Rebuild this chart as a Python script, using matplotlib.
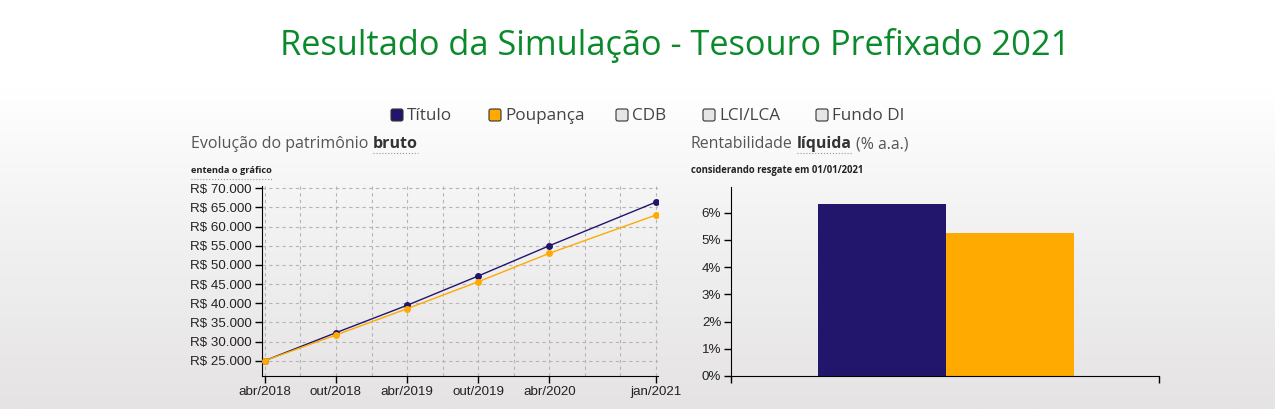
import matplotlib
matplotlib.use('Agg')
import numpy as np
import matplotlib.pyplot as plt
from matplotlib.colors import LinearSegmentedColormap
from matplotlib.lines import Line2D
from matplotlib.patches import FancyBboxPatch
from matplotlib.ticker import FuncFormatter, MultipleLocator
from matplotlib.transforms import IdentityTransform

W, H = 1275, 409

# evolucao do patrimonio bruto (meses contados a partir de abr/2018)
meses = [0, 6, 12, 18, 24, 33]
rotulos_x = ['abr/2018', 'out/2018', 'abr/2019', 'out/2019', 'abr/2020', 'jan/2021']
titulo_valores = [25000, 32300, 39450, 47100, 55000, 66400]
poupanca_valores = [25000, 31700, 38570, 45600, 53030, 63020]

# rentabilidade liquida (% a.a.)
categorias = ['Título', 'Poupança']
rentabilidade = [6.32, 5.25]

legenda = ['Título', 'Poupança', 'CDB', 'LCI/LCA', 'Fundo DI']

AZUL = '#21166b'
LARANJA = '#ffaa00'
VERDE = '#0b8a2c'


def fx(x):
    return x / W


def fy(y):
    return 1 - y / H


fig = plt.figure(figsize=(W / 100, H / 100), dpi=100)
renderer = fig.canvas.get_renderer()

# fundo em degrade (branco no topo, cinza claro embaixo)
bg = fig.add_axes([0, 0, 1, 1], zorder=-10)
cmap = LinearSegmentedColormap.from_list(
    'fundo', [(0, '#ffffff'), (0.22, '#ffffff'), (0.55, '#f3f2f2'), (1, '#e5e3e3')])
grad = np.linspace(0, 1, 256).reshape(-1, 1)
bg.imshow(grad, cmap=cmap, aspect='auto', extent=[0, 1, 0, 1], origin='upper')
bg.axis('off')


def ajustar(t, largura):
    w = t.get_window_extent(renderer).width
    t.set_fontsize(t.get_fontsize() * largura / w)


def partes(x, y, pedacos, largura, size=12.3):
    """escreve pedacos (texto, negrito) em sequencia ocupando a largura dada"""
    textos = []
    for s, negrito in pedacos:
        textos.append(fig.text(fx(x), fy(y), s, family='Open Sans', fontsize=size,
                               fontweight='bold' if negrito else 'normal',
                               color='#333333' if negrito else '#555555', va='baseline'))
    espaco = size * 0.26 * 100 / 72
    total = sum(t.get_window_extent(renderer).width for t in textos) + espaco * (len(textos) - 1)
    k = largura / total
    xi = x
    limites = []
    for t in textos:
        t.set_fontsize(size * k)
        t.set_x(fx(xi))
        w = t.get_window_extent(renderer).width
        limites.append((xi, xi + w))
        xi += w + espaco * k
    return limites


# titulo
t = fig.text(fx(675.5), fy(55), 'Resultado da Simulação - Tesouro Prefixado 2021',
             family='Open Sans', fontsize=26, color=VERDE, ha='center', va='baseline')
ajustar(t, 793)

# legenda
cores_leg = [AZUL, LARANJA, '#e6e6e6', '#e6e6e6', '#e6e6e6']
pos_leg = [391, 489, 616, 703, 816]
for nome, cor, x in zip(legenda, cores_leg, pos_leg):
    quad = FancyBboxPatch((x, H - 121), 12, 12, boxstyle='round,pad=0,rounding_size=2',
                          facecolor=cor, edgecolor='#333333', lw=0.8,
                          transform=IdentityTransform())
    fig.add_artist(quad)
    fig.text(fx(x + 16), fy(120), nome, family='Open Sans', fontsize=12.3,
             color='#444444', va='baseline')

# subtitulos
lim = partes(191, 148.5, [('Evolução do patrimônio', False), ('bruto', True)], 228)
fig.add_artist(Line2D([fx(lim[1][0]), fx(lim[1][1])], [fy(152.5)] * 2,
                      ls=':', lw=0.8, color='#999999'))
lim = partes(691, 148.5, [('Rentabilidade', False), ('líquida', True), ('(% a.a.)', False)], 219)
fig.add_artist(Line2D([fx(lim[1][0]), fx(lim[1][1])], [fy(152.5)] * 2,
                      ls=':', lw=0.8, color='#999999'))

t = fig.text(fx(191), fy(173.3), 'entenda o gráfico', family='Open Sans', fontsize=8,
             fontweight='bold', color='#222222', va='baseline')
ajustar(t, 81)
fig.add_artist(Line2D([fx(191), fx(272)], [fy(178.5)] * 2, ls=':', lw=0.8, color='#999999'))
t = fig.text(fx(691), fy(173.3), 'considerando resgate em 01/01/2021', family='Open Sans',
             fontsize=8, fontweight='bold', color='#222222', va='baseline')
ajustar(t, 175)

# grafico de linhas
ax1 = fig.add_axes([fx(261.5), fy(376), (658 - 261.5) / W, (376 - 186) / H])
ax1.set_facecolor('none')
ax1.plot(meses, titulo_valores, '-o', color=AZUL, lw=1, ms=4, zorder=3)
ax1.plot(meses, poupanca_valores, '-o', color=LARANJA, lw=1, ms=4, zorder=4)
ax1.set_xlim(-0.28, 33.17)
ax1.set_ylim(21000, 70600)
ax1.set_xticks(meses, rotulos_x)
ax1.xaxis.set_minor_locator(MultipleLocator(3))
ax1.xaxis.remove_overlapping_locs = False
ax1.yaxis.set_major_locator(MultipleLocator(5000))
ax1.yaxis.set_major_formatter(FuncFormatter(lambda v, p: 'R$ ' + f'{v:,.0f}'.replace(',', '.')))
ax1.grid(True, axis='x', which='minor', ls=(0, (3, 3)), color='#b5b5b5', lw=0.8)
ax1.grid(True, axis='y', which='major', ls=(0, (3, 3)), color='#b5b5b5', lw=0.8)
ax1.tick_params(which='minor', length=0)
ax1.tick_params(which='major', length=5, width=1, color='black', labelsize=9.6,
                labelcolor='#222222', pad=2)
for lab in ax1.get_xticklabels() + ax1.get_yticklabels():
    lab.set_family('Liberation Sans')
for s in ['top', 'right']:
    ax1.spines[s].set_visible(False)

# grafico de barras
ax2 = fig.add_axes([fx(731), fy(376), (1159 - 731) / W, (376 - 186.7) / H])
ax2.set_facecolor('none')
ax2.bar(range(len(categorias)), rentabilidade, width=1, color=[AZUL, LARANJA])
ax2.set_xlim(-1.18, 2.16)
ax2.set_ylim(0, 6.95)
ax2.set_xticks(ax2.get_xlim(), ['', ''])
ax2.set_yticks(range(7))
ax2.yaxis.set_major_formatter(FuncFormatter(lambda v, p: f'{v:.0f}%'))
ax2.tick_params(length=5, width=1, color='black', labelsize=9.6, labelcolor='#222222', pad=2)
for lab in ax2.get_yticklabels():
    lab.set_family('Liberation Sans')
for s in ['top', 'right']:
    ax2.spines[s].set_visible(False)

fig.savefig('out.png', dpi=100)
